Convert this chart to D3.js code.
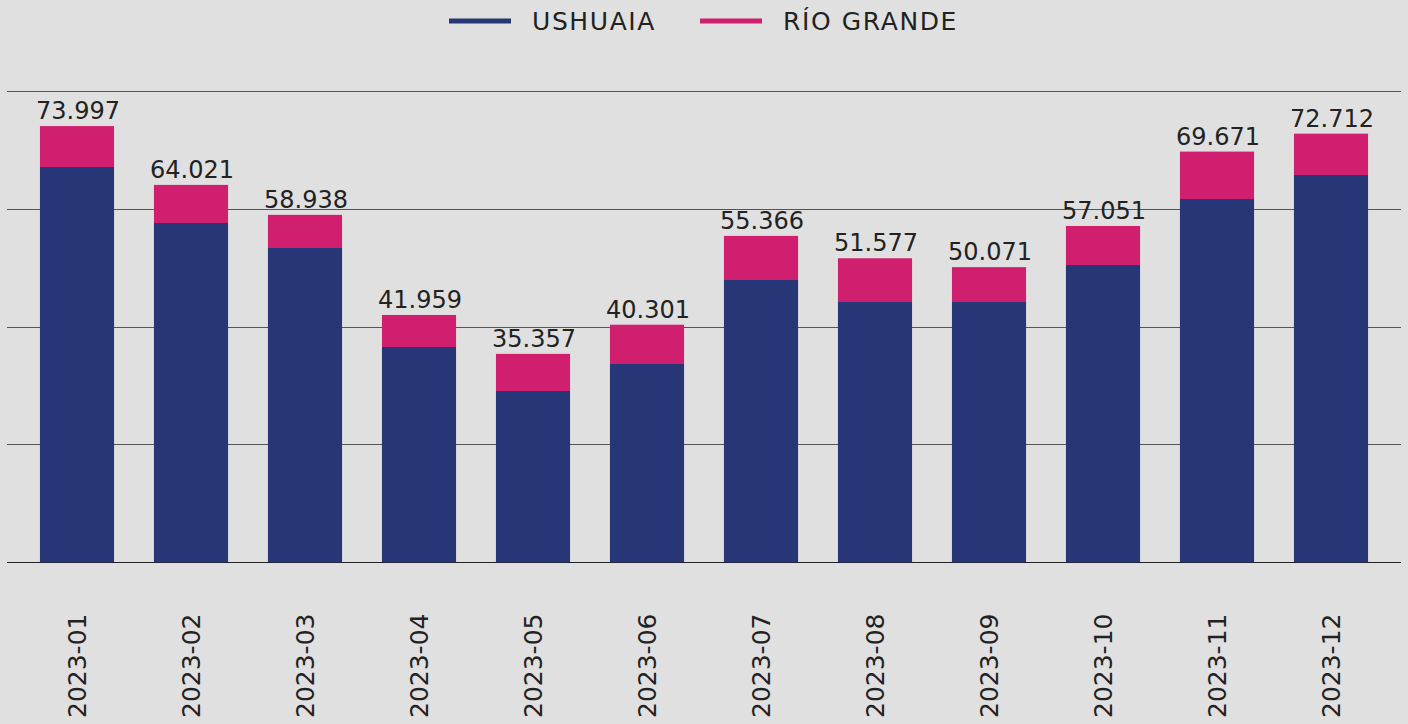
<!DOCTYPE html>
<html>
<head>
<meta charset="utf-8">
<script src="https://cdn.jsdelivr.net/npm/d3@7"></script>
<style>
  html, body { margin: 0; padding: 0; background: #e0e0e0; }
  svg { display: block; }
</style>
</head>
<body>
<div id="chart"></div>
<script>
// datos por mes
var months = ["2023-01", "2023-02", "2023-03", "2023-04", "2023-05", "2023-06",
  "2023-07", "2023-08", "2023-09", "2023-10", "2023-11", "2023-12"];
var ushuaia = [67057, 57557, 53316, 36522, 29058, 33639, 47888, 44156, 44156, 50433, 61629, 65700];
var rioGrande = [6940, 6464, 5622, 5437, 6299, 6662, 7478, 7421, 5915, 6618, 8042, 7012];
var seriesNames = ["USHUAIA", "RÍO GRANDE"];
var colors = ["#273677", "#d01f6f"];
var yTicks = [0, 20000, 40000, 60000, 80000];

var width = 1408;
var height = 724;
var font = "'DejaVu Sans', sans-serif";

var data = months.map((m, i) => ({ month: m, u: ushuaia[i], r: rioGrande[i], total: ushuaia[i] + rioGrande[i] }));
var stack = d3.stack().keys(["u", "r"])(data);

var svg = d3
  .select("#chart")
  .append("svg")
  .attr("width", width)
  .attr("height", height);

svg.append("rect").attr("width", width).attr("height", height).attr("fill", "#e0e0e0");

var x = d3
  .scaleBand()
  .domain(months)
  .range([20, 1388])
  .paddingInner(0.35)
  .paddingOuter(0.175);

var y = d3.scaleLinear().domain([0, 80000]).range([562.3, 90.7]);

// grid
svg
  .append("g")
  .selectAll("line")
  .data(yTicks)
  .enter()
  .append("line")
  .attr("x1", 7)
  .attr("x2", 1401)
  .attr("y1", (d) => Math.round(y(d)) + 0.5)
  .attr("y2", (d) => Math.round(y(d)) + 0.5)
  .attr("stroke", (d) => (d == 0 ? "#222" : "#555"))
  .attr("stroke-width", 1.2);

// barras apiladas
svg
  .append("g")
  .selectAll("g")
  .data(stack)
  .enter()
  .append("g")
  .attr("fill", (d, i) => colors[i])
  .selectAll("rect")
  .data((d) => d)
  .enter()
  .append("rect")
  .attr("x", (d) => x(d.data.month))
  .attr("width", x.bandwidth())
  .attr("y", (d) => y(d[1]))
  .attr("height", (d) => y(d[0]) - y(d[1]));

// etiquetas de total
var fmt = (v) => d3.format(",")(v).replace(/,/g, ".");
svg
  .append("g")
  .selectAll("text")
  .data(data)
  .enter()
  .append("text")
  .attr("x", (d) => x(d.month) + x.bandwidth() / 2 + 1)
  .attr("y", (d) => y(d.total) - 7)
  .attr("text-anchor", "middle")
  .attr("font-family", font)
  .attr("font-size", 24)
  .attr("fill", "#222")
  .text((d) => fmt(d.total));

// eje x
svg
  .append("g")
  .selectAll("text")
  .data(months)
  .enter()
  .append("text")
  .attr("transform", (d) => `translate(${x(d) + x.bandwidth() / 2 + 9} 718) rotate(-90)`)
  .attr("text-anchor", "start")
  .attr("font-family", font)
  .attr("font-size", 25)
  .attr("fill", "#222")
  .text((d) => d);

// leyenda
var legendX = [449, 700];
var legend = svg
  .append("g")
  .selectAll("g")
  .data(seriesNames)
  .enter()
  .append("g")
  .attr("transform", (d, i) => `translate(${legendX[i]} 21)`);

legend
  .append("line")
  .attr("x1", 0)
  .attr("x2", 62)
  .attr("stroke", (d, i) => colors[i])
  .attr("stroke-width", 5);

legend
  .append("text")
  .attr("x", 83)
  .attr("y", 9)
  .attr("font-family", font)
  .attr("font-size", 25)
  .attr("letter-spacing", 1.6)
  .attr("fill", "#222")
  .text((d) => d);
</script>
</body>
</html>
